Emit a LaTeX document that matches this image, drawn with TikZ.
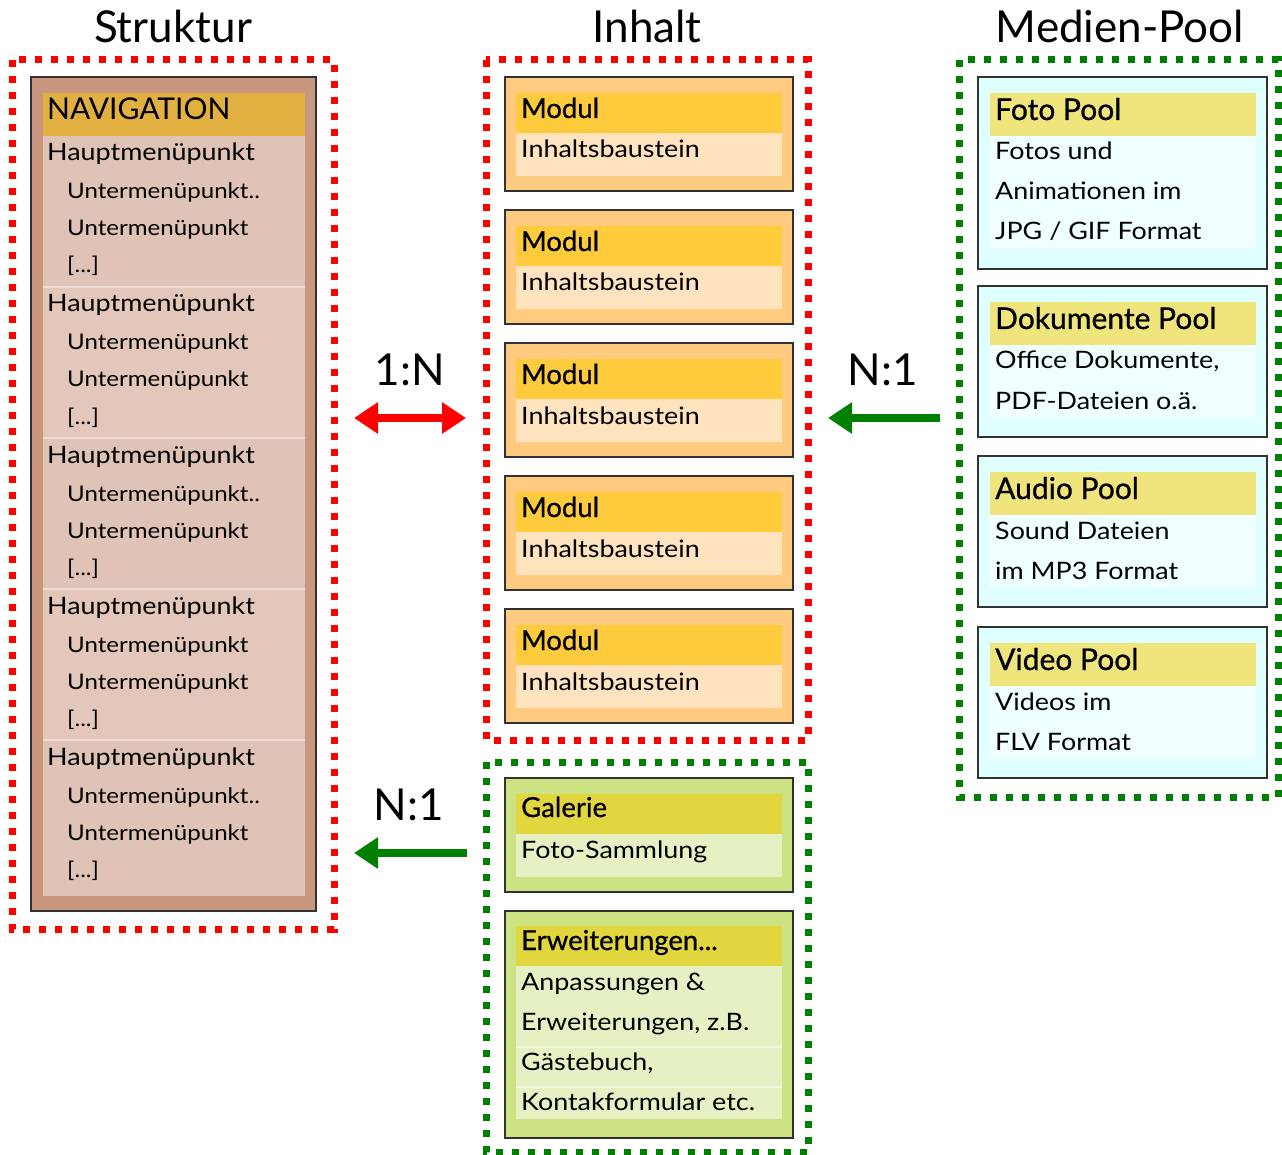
\documentclass[tikz,border=0pt]{standalone}
\usepackage{fontspec}
\setmainfont{Lato}
\newfontfamily\bodyfont{Lato}[FakeStretch=1.12]
\newfontfamily\hdfont{Lato}[FakeBold=0.8]
\usetikzlibrary{arrows.meta}
\definecolor{dotred}{RGB}{255,0,0}
\definecolor{dotgreen}{RGB}{0,128,0}
\definecolor{frameline}{RGB}{50,50,50}
\definecolor{navout}{RGB}{201,151,128}
\definecolor{navhead}{RGB}{226,176,64}
\definecolor{navrowA}{RGB}{223,195,183}
\definecolor{navrowB}{RGB}{227,199,186}
\definecolor{navsep}{RGB}{238,220,212}
\definecolor{modout}{RGB}{254,203,128}
\definecolor{modhead}{RGB}{254,203,60}
\definecolor{modbody}{RGB}{255,227,190}
\definecolor{grnout}{RGB}{205,227,131}
\definecolor{grnhead}{RGB}{226,214,62}
\definecolor{grnbody}{RGB}{229,241,194}
\definecolor{grnsep}{RGB}{240,248,220}
\definecolor{poolout}{RGB}{224,255,255}
\definecolor{poolhead}{RGB}{240,228,125}
\definecolor{poolbody}{RGB}{240,255,255}
\newcommand\poolbox[8]{% top, bottom, bodyend, name, header, l1, l2, l3
  \fill[poolout] (978,#1) rectangle (1267,#2);
  \fill[poolhead] (990,#1+16) rectangle (1256,#1+59);
  \fill[poolbody] (990,#1+59) rectangle (1256,#3);
  \draw[frame] (978,#1) rectangle (1267,#2);
  \node[hdr, font=\hdfont\fontsize{30}{34}\selectfont] (#4h) at (995,#1+43) {#5};
  \node[txt] (#4a) at (995,#1+83) {#6};
  \node[txt] (#4b) at (995,#1+123) {#7};
  \node[txt] (#4c) at (995,#1+163) {#8};
}
\begin{document}
\begin{tikzpicture}[x=1pt,y=-1pt,
  txt/.style={anchor=base west, inner sep=0pt, font=\bodyfont\fontsize{24}{28}\selectfont},
  subtxt/.style={anchor=base west, inner sep=0pt, font=\bodyfont\fontsize{21.5}{26}\selectfont},
  hdr/.style={anchor=base west, inner sep=0pt, font=\hdfont\fontsize{27.5}{32}\selectfont},
  ttl/.style={anchor=base, inner sep=0pt, font=\fontsize{44}{50}\selectfont},
  ratio/.style={anchor=base, inner sep=0pt, font=\fontsize{44}{50}\selectfont},
  reddot/.style={draw=dotred, line width=7pt, dash pattern=on 7pt off 9pt},
  greendot/.style={draw=dotgreen, line width=7pt, dash pattern=on 7pt off 9pt},
  frame/.style={draw=frameline, line width=1.5pt},
  bigarrow/.style={line width=8pt, -{Triangle[length=24pt,width=30pt]}},
  dblarrow/.style={line width=8pt, {Triangle[length=24pt,width=30pt]}-{Triangle[length=24pt,width=30pt]}}
]
\useasboundingbox (0,0) rectangle (1282,1155);

% titles
\node[ttl] (tstruktur) at (173,43) {Struktur};
\node[ttl] (tinhalt) at (647,43) {Inhalt};
\node[ttl] (tmedien) at (1120,43) {Medien-Pool};

% containers
\draw[reddot] (12,60) rectangle (334,929);
\draw[reddot] (486,60) rectangle (808,740);
\draw[greendot] (486,762) rectangle (808,1152);
\draw[greendot] (959,60) rectangle (1278,797);

% ---------- Struktur ----------
\fill[navout] (31,77) rectangle (316,911);
\fill[navhead] (43,93) rectangle (305,136);
\node[hdr, font=\fontsize{30}{34}\selectfont] (nav) at (47,120) {NAVIGATION};
\foreach \i/\ua/\fc in {0/{Untermenüpunkt..}/navrowA,
                        1/{Untermenüpunkt}/navrowB,
                        2/{Untermenüpunkt..}/navrowA,
                        3/{Untermenüpunkt}/navrowB,
                        4/{Untermenüpunkt..}/navrowA}{
  \pgfmathsetmacro\gt{136+151*\i}
  \pgfmathsetmacro\gb{ifthenelse(\i==4,896,\gt+151)}
  \fill[\fc] (43,\gt) rectangle (305,\gb);
  \node[txt] (haupt\i) at (47,\gt+25) {Hauptmenüpunkt};
  \node[subtxt] (untera\i) at (67,\gt+63) {\ua};
  \node[subtxt] (unterb\i) at (67,\gt+100) {Untermenüpunkt};
  \node[subtxt] (dots\i) at (67,\gt+137) {[...]};
}
\foreach \i in {1,2,3,4}{
  \draw[navsep, line width=1.2pt] (43,136+151*\i) -- (305,136+151*\i);
}
\draw[frame] (31,77) rectangle (316,911);

% ---------- Inhalt modules ----------
\foreach \i in {0,...,4}{
  \pgfmathsetmacro\T{77+133*\i}
  \fill[modout] (505,\T) rectangle (793,\T+114);
  \fill[modhead] (516,\T+16) rectangle (782,\T+56);
  \fill[modbody] (516,\T+56) rectangle (782,\T+99);
  \draw[frame] (505,\T) rectangle (793,\T+114);
  \node[hdr] (modul\i) at (521,\T+41) {Modul};
  \node[txt] (baustein\i) at (521,\T+81) {Inhaltsbaustein};
}

% ---------- Galerie / Erweiterungen ----------
\fill[grnout] (505,778) rectangle (793,892);
\fill[grnhead] (516,794) rectangle (782,834);
\fill[grnbody] (516,834) rectangle (782,877);
\draw[frame] (505,778) rectangle (793,892);
\node[hdr] (galerie) at (521,817) {Galerie};
\node[txt] (sammlung) at (521,858) {Foto-Sammlung};

\fill[grnout] (505,911) rectangle (793,1138);
\fill[grnhead] (516,926) rectangle (782,966);
\fill[grnbody] (516,966) rectangle (782,1119);
\draw[grnsep, line width=1.2pt] (516,1047) -- (782,1047);
\draw[grnsep, line width=1.2pt] (516,1087) -- (782,1087);
\draw[frame] (505,911) rectangle (793,1138);
\node[hdr] (erw) at (521,950) {Erweiterungen...};
\node[txt] (erw1) at (521,990) {Anpassungen \&};
\node[txt] (erw2) at (521,1030) {Erweiterungen, z.B.};
\node[txt] (erw3) at (521,1070) {Gästebuch,};
\node[txt] (erw4) at (521,1110) {Kontakformular etc.};

% ---------- Medien-Pool ----------
\poolbox{77}{269}{249}{foto}{Foto Pool}{Fotos und}{Animationen im}{JPG / GIF Format}
\poolbox{286}{437}{418}{doku}{Dokumente Pool}{Office Dokumente,}{PDF-Dateien o.ä.}{}
\poolbox{456}{607}{588}{audio}{Audio Pool}{Sound Dateien}{im MP3 Format}{}
\poolbox{627}{778}{759}{video}{Video Pool}{Videos im}{FLV Format}{}

% ---------- arrows ----------
\coordinate (a1l) at (354,418);
\coordinate (a1r) at (466,418);
\coordinate (a2l) at (828,418);
\coordinate (a2r) at (940,418);
\coordinate (a3l) at (354,853);
\coordinate (a3r) at (467,853);
\draw[dblarrow, dotred] (a1l) -- (a1r);
\draw[bigarrow, dotgreen] (a2r) -- (a2l);
\draw[bigarrow, dotgreen] (a3r) -- (a3l);
\node[ratio] (r1) at (410,385) {1:N};
\node[ratio] (r2) at (883,385) {N:1};
\node[ratio] (r3) at (409,820) {N:1};
\end{tikzpicture}
\end{document}
